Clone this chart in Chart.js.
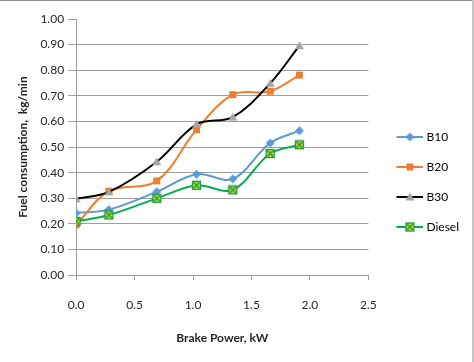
<!DOCTYPE html>
<html>
<head>
<meta charset="utf-8">
<script src="https://cdn.jsdelivr.net/npm/chart.js@4.4.1/dist/chart.umd.min.js"></script>
<style>
  html, body { margin: 0; padding: 0; background: #fff; }
  #wrap { position: relative; width: 474px; height: 362px; }
  #wrap canvas { position: absolute; left: 0; top: 0; }
  .edge-top { position: absolute; left: 0; top: 0; width: 474px; height: 1px; background: #8e8e8e; }
  .edge-right { position: absolute; left: 472px; top: 0; width: 2px; height: 362px; background: #c4c4c4; }
</style>
</head>
<body>
<div id="wrap">
  <canvas id="chart" width="474" height="362"></canvas>
  <div class="edge-top"></div>
  <div class="edge-right"></div>
</div>
<script>
// brake power, kW
const brakePower = [0.0, 0.28, 0.69, 1.03, 1.34, 1.66, 1.91];

// fuel consumption, kg/min
const b10    = [0.243, 0.256, 0.326, 0.394, 0.376, 0.516, 0.564];
const b20    = [0.197, 0.328, 0.368, 0.568, 0.705, 0.718, 0.781];
const b30    = [0.298, 0.325, 0.443, 0.589, 0.617, 0.749, 0.896];
const diesel = [0.210, 0.235, 0.300, 0.351, 0.333, 0.475, 0.509];

const seriesNames = ['B10', 'B20', 'B30', 'Diesel'];
const xTicks = [0, 0.5, 1.0, 1.5, 2.0, 2.5];
const yTicks = [0, 0.1, 0.2, 0.3, 0.4, 0.5, 0.6, 0.7, 0.8, 0.9, 1.0];

const FONT = 'Lato';

// marker drawing, shared by the plot and the legend
function drawMarker(ctx, kind, cx, cy) {
  ctx.save();
  if (kind === 'diamond') {
    ctx.fillStyle = '#5B9BD5';
    ctx.beginPath();
    ctx.moveTo(cx, cy - 4.5); ctx.lineTo(cx + 4.5, cy);
    ctx.lineTo(cx, cy + 4.5); ctx.lineTo(cx - 4.5, cy);
    ctx.closePath(); ctx.fill();
  } else if (kind === 'square') {
    ctx.fillStyle = '#ED7D31';
    ctx.fillRect(cx - 3.5, cy - 3.5, 7, 7);
  } else if (kind === 'triangle') {
    ctx.fillStyle = '#A5A5A5';
    ctx.beginPath();
    ctx.moveTo(cx, cy - 4.5); ctx.lineTo(cx + 4.5, cy + 3.5); ctx.lineTo(cx - 4.5, cy + 3.5);
    ctx.closePath(); ctx.fill();
  } else if (kind === 'xsquare') {
    ctx.fillStyle = '#C2D934';
    ctx.fillRect(cx - 4, cy - 4, 8, 8);
    ctx.strokeStyle = '#1E9A3C';
    ctx.lineWidth = 1.3;
    ctx.strokeRect(cx - 4, cy - 4, 8, 8);
    ctx.beginPath();
    ctx.moveTo(cx - 3, cy - 3); ctx.lineTo(cx + 3, cy + 3);
    ctx.moveTo(cx + 3, cy - 3); ctx.lineTo(cx - 3, cy + 3);
    ctx.stroke();
  }
  ctx.restore();
}

function markerCanvas(kind) {
  const c = document.createElement('canvas');
  c.width = 11; c.height = 11;
  drawMarker(c.getContext('2d'), kind, 5.5, 5.5);
  return c;
}

// legend symbol: a short line with the marker in its middle
function legendCanvas(kind, lineColor) {
  const c = document.createElement('canvas');
  c.width = 40; c.height = 12;
  const ctx = c.getContext('2d');
  ctx.strokeStyle = lineColor;
  ctx.lineWidth = 2;
  ctx.beginPath(); ctx.moveTo(13, 6); ctx.lineTo(40, 6); ctx.stroke();
  drawMarker(ctx, kind, 26.5, 6);
  return c;
}

const markerKinds = ['diamond', 'square', 'triangle', 'xsquare'];
const lineColors = ['#5B9BD5', '#ED7D31', '#000000', '#00B050'];
const seriesValues = [b10, b20, b30, diesel];

const legendImgs = markerKinds.map((k, i) => legendCanvas(k, lineColors[i]));

const datasets = seriesNames.map((name, i) => ({
  label: name,
  data: brakePower.map((x, j) => ({ x: x, y: seriesValues[i][j] })),
  showLine: true,
  borderColor: lineColors[i],
  backgroundColor: lineColors[i],
  borderWidth: 2,
  tension: 0.35,
  pointStyle: markerCanvas(markerKinds[i]),
  pointRadius: 5,
  order: 3 - i
}));

new Chart(document.getElementById('chart'), {
  type: 'scatter',
  data: { datasets: datasets },
  options: {
    responsive: false,
    animation: false,
    layout: { padding: { top: 19, bottom: 17, left: 0, right: 5 } },
    plugins: {
      tooltip: { enabled: false },
      legend: {
        position: 'right',
        labels: {
          usePointStyle: true,
          pointStyleWidth: 34,
          padding: 18,
          color: '#262626',
          font: { family: FONT, size: 12 },
          sort: (a, b) => a.datasetIndex - b.datasetIndex,
          generateLabels: (chart) => chart.data.datasets.map((ds, i) => ({
            text: ds.label,
            pointStyle: legendImgs[i],
            fillStyle: lineColors[i],
            strokeStyle: lineColors[i],
            lineWidth: 0,
            hidden: false,
            datasetIndex: i
          }))
        }
      }
    },
    scales: {
      x: {
        type: 'linear',
        min: 0,
        max: 2.5,
        afterBuildTicks: (scale) => { scale.ticks = xTicks.map(v => ({ value: v })); },
        ticks: {
          color: '#262626',
          padding: 18,
          font: { family: FONT, size: 12 },
          callback: (v) => Number(v).toFixed(1)
        },
        grid: { drawOnChartArea: false, drawTicks: true, tickLength: 5, tickColor: '#9e9e9e' },
        border: { color: '#9e9e9e', width: 1 },
        title: {
          display: true,
          text: 'Brake Power, kW',
          color: '#262626',
          font: { family: FONT, size: 12, weight: 'bold' },
          padding: { top: 0, bottom: 0 }
        }
      },
      y: {
        min: 0,
        max: 1,
        afterBuildTicks: (scale) => { scale.ticks = yTicks.map(v => ({ value: v })); },
        ticks: {
          color: '#262626',
          padding: 4,
          font: { family: FONT, size: 12 },
          callback: (v) => Number(v).toFixed(2)
        },
        grid: {
          color: (c) => (c.tick && c.tick.value === 1) ? 'rgba(0,0,0,0)' : '#9e9e9e',
          tickColor: '#9e9e9e',
          tickLength: 8,
          lineWidth: 1
        },
        border: { color: '#9e9e9e', width: 1 },
        title: {
          display: true,
          text: 'Fuel consumption,  kg/min',
          color: '#262626',
          font: { family: FONT, size: 12, weight: 'bold' },
          padding: { top: 16, bottom: 6 }
        }
      }
    }
  }
});
</script>
</body>
</html>
